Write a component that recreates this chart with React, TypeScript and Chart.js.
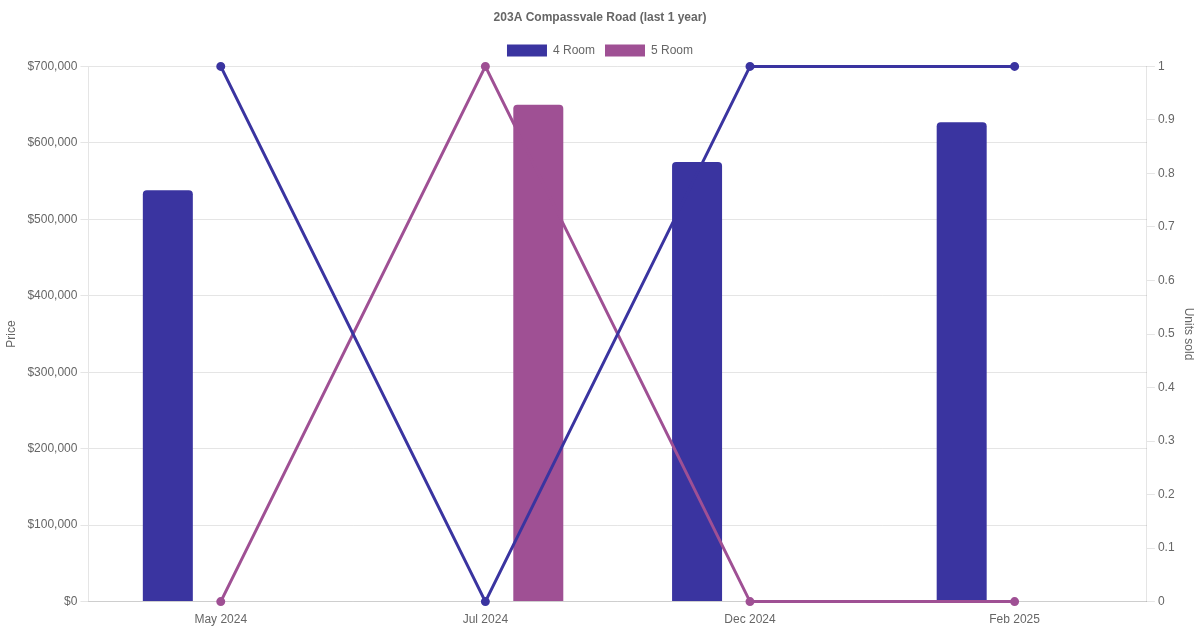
import React, { useEffect, useRef } from "react";
import { Chart, registerables } from "chart.js";

Chart.register(...registerables);

const categories = ["May 2024", "Jul 2024", "Dec 2024", "Feb 2025"];
const price4Room = [538000, null, 575000, 627000];
const price5Room = [null, 650000, null, null];
const units4Room = [1, 0, 1, 1];
const units5Room = [0, 1, 0, 0];

const COLOR_4 = "#3a34a0";
const COLOR_5 = "#9f5094";

export default function App() {
  const ref = useRef<HTMLCanvasElement | null>(null);
  useEffect(() => {
    document.body.style.margin = "0";
    const font = { family: "'Liberation Sans', Arial, sans-serif", size: 12 };
    Chart.defaults.font.family = font.family;
    Chart.defaults.color = "#666";
    const chart = new Chart(ref.current!, {
      type: "bar",
      data: {
        labels: categories,
        datasets: [
          {
            type: "bar",
            label: "4 Room",
            data: price4Room,
            backgroundColor: COLOR_4,
            borderColor: COLOR_4,
            borderRadius: 4,
            maxBarThickness: 50,
            yAxisID: "y",
            order: 2,
          },
          {
            type: "bar",
            label: "5 Room",
            data: price5Room,
            backgroundColor: COLOR_5,
            borderColor: COLOR_5,
            borderRadius: 4,
            maxBarThickness: 50,
            yAxisID: "y",
            order: 2,
          },
          {
            type: "line",
            label: "4 Room units",
            data: units4Room,
            borderColor: COLOR_4,
            backgroundColor: COLOR_4,
            borderWidth: 3,
            pointRadius: 3,
            tension: 0,
            clip: false,
            yAxisID: "y1",
            order: 1,
          },
          {
            type: "line",
            label: "5 Room units",
            data: units5Room,
            borderColor: COLOR_5,
            backgroundColor: COLOR_5,
            borderWidth: 3,
            pointRadius: 3,
            tension: 0,
            clip: false,
            yAxisID: "y1",
            order: 1,
          },
        ] as any,
      },
      options: {
        animation: false,
        responsive: true,
        maintainAspectRatio: false,
        plugins: {
          title: {
            display: true,
            text: "203A Compassvale Road (last 1 year)",
            color: "#666",
            font: { ...font, weight: "bold" },
          },
          legend: {
            labels: {
              color: "#666",
              font,
              filter: (item: any) => item.datasetIndex < 2,
            },
          },
          tooltip: { enabled: false },
        },
        scales: {
          x: {
            grid: { display: false },
            ticks: { color: "#666", font },
          },
          y: {
            position: "left",
            min: 0,
            max: 700000,
            ticks: {
              stepSize: 100000,
              color: "#666",
              font,
              callback: (v: any) => "$" + Number(v).toLocaleString("en-US"),
            },
            title: { display: true, text: "Price", color: "#666", font, padding: { top: 4, bottom: 6 } },
          },
          y1: {
            position: "right",
            min: 0,
            max: 1,
            ticks: {
              stepSize: 0.1,
              color: "#666",
              font,
              callback: (v: any) => String(Math.round(Number(v) * 10) / 10),
            },
            grid: { drawOnChartArea: false },
            title: { display: true, text: "Units sold", color: "#666", font },
          },
        },
      } as any,
    });
    return () => chart.destroy();
  }, []);
  return (
    <div style={{ position: "absolute", left: 0, top: 0, width: 1200, height: 630 }}>
      <canvas ref={ref} />
    </div>
  );
}
